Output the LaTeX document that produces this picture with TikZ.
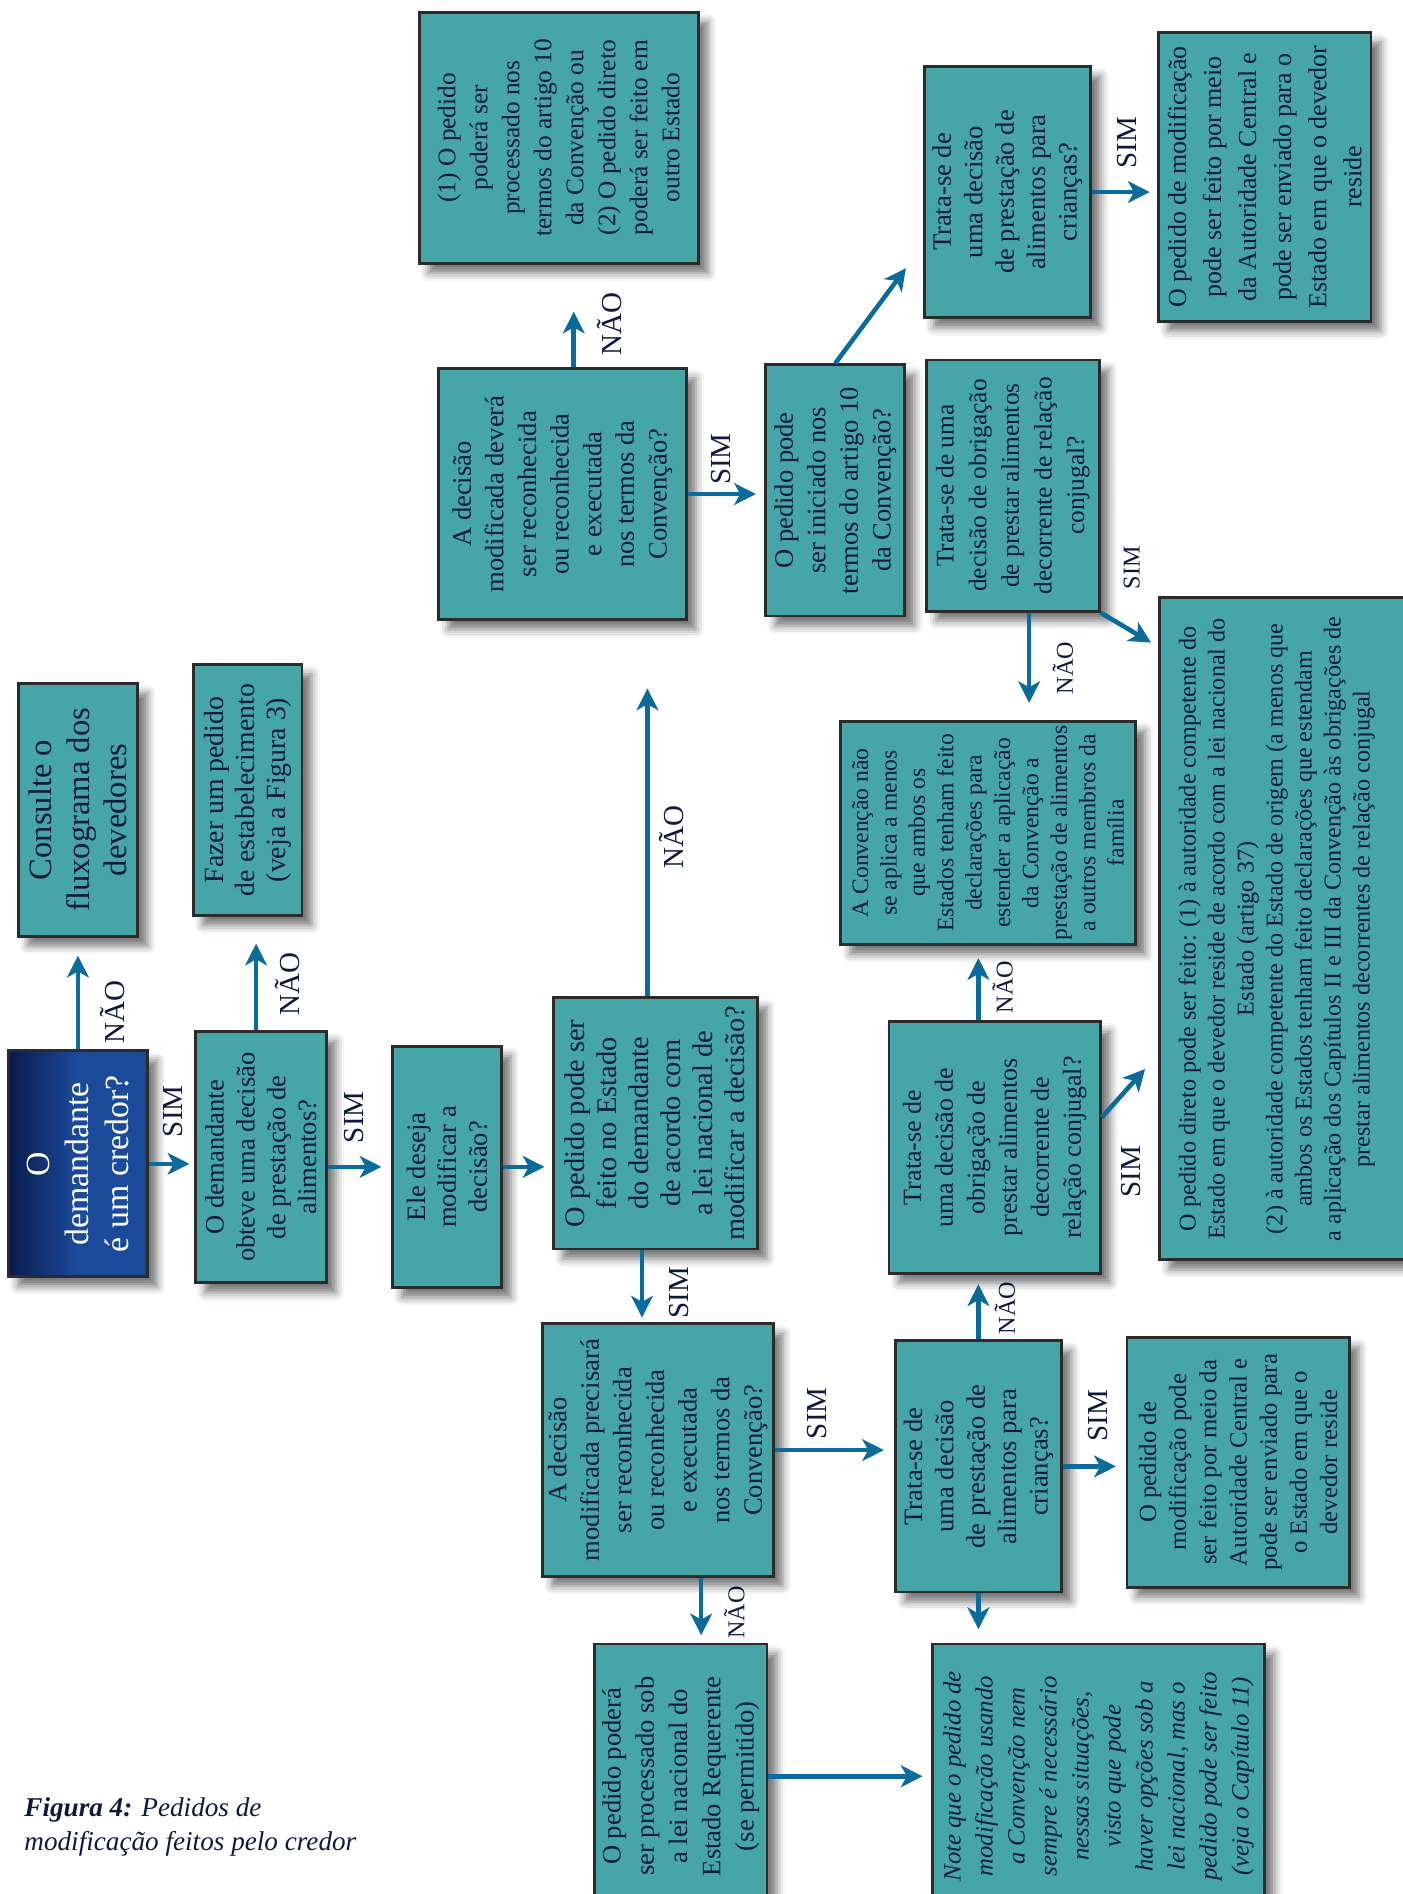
\documentclass[tikz,border=0pt]{standalone}
\usepackage{fontspec}
\setmainfont{Liberation Serif}
\usetikzlibrary{arrows.meta,shadows.blur,fit,calc}
\definecolor{tealbox}{HTML}{45A5A7}
\definecolor{bordc}{HTML}{2B2B2B}
\definecolor{ink}{HTML}{0E1A3D}
\definecolor{arrc}{HTML}{0B6C9C}
\definecolor{navyd}{HTML}{0A1A4C}
\definecolor{blueb}{HTML}{1B4A9A}
\begin{document}
\begin{tikzpicture}[x=1pt,y=-1pt,
  box/.style={draw=bordc, line width=2.4pt, fill=tealbox, inner sep=0pt,
    blur shadow={shadow xshift=8pt, shadow yshift=-8pt, shadow blur radius=7pt, shadow opacity=55}},
  txt/.style={rotate=90, align=center, text=ink, inner sep=0pt, font=\fontsize{22}{26}\selectfont},
  lbl/.style={rotate=90, text=ink, inner sep=0pt, font=\fontsize{24}{24}\selectfont},
  lbls/.style={rotate=90, text=ink, inner sep=0pt, font=\fontsize{20}{20}\selectfont},
  arr/.style={draw=arrc, line width=3.8pt, -{Stealth[length=18pt,width=18pt,inset=5pt]}}]
\useasboundingbox (0,0) rectangle (1161,1568);

% boxes
\node[box, fit={(7,870) (122,1057)}, left color=navyd, right color=blueb, middle color=blueb] (b1) {};
\node[box, fit={(15,566) (114,775)}] (b2) {};
\node[box, fit={(162,854) (270,1062)}] (b3) {};
\node[box, fit={(160,550) (250,758)}] (b4) {};
\node[box, fit={(325,866) (415,1066)}] (b5) {};
\node[box, fit={(458,826) (627,1034)}] (b6) {};
\node[box, fit={(449,1096) (640,1305)}] (b7) {};
\node[box, fit={(492,1361) (635,1580)}] (b8) {};
\node[box, fit={(741,1110) (879,1318)}] (b9) {};
\node[box, fit={(933,1107) (1117,1314)}] (b10) {};
\node[box, fit={(772,1361) (1047,1580)}] (b11) {};
\node[box, fit={(363,305) (568,513)}] (b12) {};
\node[box, fit={(347,10) (578,218)}] (b13) {};
\node[box, fit={(634,302) (749,510)}] (b14) {};
\node[box, fit={(765,55) (903,263)}] (b15) {};
\node[box, fit={(959,27) (1135,266)}] (b16) {};
\node[box, fit={(767,298) (910,506)}] (b17) {};
\node[box, fit={(696,597) (940,782)}] (b18) {};
\node[box, fit={(960,495) (1180,1043)}] (b19) {};
\node[box, fit={(736,846) (911,1054)}] (b20) {};

% texts
\node[txt, text=white, font=\fontsize{28}{33}\selectfont] (t1) at (b1.center) {O\\demandante\\é um credor?};
\node[txt, font=\fontsize{27}{31}\selectfont] (t2) at (b2.center) {Consulte o\\fluxograma dos\\devedores};
\node[txt, font=\fontsize{22}{25.5}\selectfont] (t3) at (b3.center) {O demandante\\obteve uma decisão\\de prestação de\\alimentos?};
\node[txt, font=\fontsize{23}{25.5}\selectfont] (t4) at (b4.center) {Fazer um pedido\\de estabelecimento\\(veja a Figura 3)};
\node[txt, font=\fontsize{22}{25.5}\selectfont] (t5) at (b5.center) {Ele deseja\\modificar a\\decisão?};
\node[txt, font=\fontsize{23.5}{26.5}\selectfont] (t6) at (b6.center) {O pedido pode ser\\feito no Estado\\do demandante\\de acordo com\\a lei nacional de\\modificar a decisão?};
\node[txt, font=\fontsize{22}{27}\selectfont] (t7) at (b7.center) {A decisão\\modificada precisará\\ser reconhecida\\ou reconhecida\\e executada\\nos termos da\\Convenção?};
\node[txt, font=\fontsize{22}{27.5}\selectfont] (t8) at (b8.center) {O pedido poderá\\ser processado sob\\a lei nacional do\\Estado Requerente\\(se permitido)};
\node[txt, font=\fontsize{22}{26}\selectfont] (t9) at (b9.center) {Trata-se de\\uma decisão\\de prestação de\\alimentos para\\crianças?};
\node[txt, font=\fontsize{20.5}{25}\selectfont] (t10) at (b10.center) {O pedido de\\modificação pode\\ser feito por meio da\\Autoridade Central e\\pode ser enviado para\\o Estado em que o\\devedor reside};
\node[txt, font=\fontsize{20.5}{26.5}\selectfont\itshape] (t11) at (b11.center) {Note que o pedido de\\modificação usando\\a Convenção nem\\sempre é necessário\\nessas situações,\\visto que pode\\haver opções sob a\\lei nacional, mas o\\pedido pode ser feito\\(veja o Capítulo 11)};
\node[txt, font=\fontsize{22}{27}\selectfont] (t12) at (b12.center) {A decisão\\modificada deverá\\ser reconhecida\\ou reconhecida\\e executada\\nos termos da\\Convenção?};
\node[txt, font=\fontsize{21}{26.5}\selectfont] (t13) at (b13.center) {(1) O pedido\\poderá ser\\processado nos\\termos do artigo 10\\da Convenção ou\\(2) O pedido direto\\poderá ser feito em\\outro Estado};
\node[txt, font=\fontsize{22}{27}\selectfont] (t14) at (b14.center) {O pedido pode\\ser iniciado nos\\termos do artigo 10\\da Convenção?};
\node[txt, font=\fontsize{22}{26}\selectfont] (t15) at (b15.center) {Trata-se de\\uma decisão\\de prestação de\\alimentos para\\crianças?};
\node[txt, font=\fontsize{21.5}{29}\selectfont] (t16) at (b16.center) {O pedido de modificação\\pode ser feito por meio\\da Autoridade Central e\\pode ser enviado para o\\Estado em que o devedor\\reside};
\node[txt, font=\fontsize{21}{27}\selectfont] (t17) at (b17.center) {Trata-se de uma\\decisão de obrigação\\de prestar alimentos\\decorrente de relação\\conjugal?};
\node[txt, font=\fontsize{19.5}{23.5}\selectfont] (t18) at (b18.center) {A Convenção não\\se aplica a menos\\que ambos os\\Estados tenham feito\\declarações para\\estender a aplicação\\da Convenção a\\prestação de alimentos\\a outros membros da\\família};
\node[txt, font=\fontsize{20}{24}\selectfont] (t19) at (1057,769) {O pedido direto pode ser feito: (1) à autoridade competente do\\Estado em que o devedor reside de acordo com a lei nacional do\\Estado (artigo 37)\\(2) à autoridade competente do Estado de origem (a menos que\\ambos os Estados tenham feito declarações que estendam\\a aplicação dos Capítulos II e III da Convenção às obrigações de\\prestar alimentos decorrentes de relação conjugal};
\node[txt, font=\fontsize{21.5}{26.5}\selectfont] (t20) at (b20.center) {Trata-se de\\uma decisão de\\obrigação de\\prestar alimentos\\decorrente de\\relação conjugal?};

% free ends and starts
\coordinate (e6) at (536,570);
\coordinate (e13) at (475,258);
\coordinate (e15) at (750,222);
\coordinate (e18) at (852,582);
\coordinate (e19a) at (953,532);
\coordinate (e19b) at (948,885);
\coordinate (s3) at ($(b3.north)+(-4,0)$);
\coordinate (s7) at ($(b6.south)+(-11,0)$);
\coordinate (s9) at ($(b7.south)+(36,0)$);
\coordinate (s15) at ($(b20.east)+(0,-25)$);

% connectors
\draw[arr, shorten >=15pt] (b1.north) -- (b2.south);
\draw[arr, shorten >=4pt] (b1.east) -- (b1.east -| b3.west);
\draw[arr, shorten >=22pt] (s3) -- (s3 |- b4.south);
\draw[arr, shorten >=8pt] (b5.west -| b3.east) -- (b5.west);
\draw[arr, shorten >=6pt] (b5.east) -- (b5.east -| b6.west);
\draw[arr] (e6 |- b6.north) -- (e6);
\draw[arr, shorten >=4pt] (s7) -- (s7 |- b7.north);
\draw[arr, shorten >=8pt] (b7.east) -- (b7.east -| b9.west);
\draw[arr, shorten >=6pt] (s9) -- (s9 |- b8.north);
\draw[arr, shorten >=7pt] (b8.east) -- (b8.east -| b11.west);
\draw[arr, shorten >=8pt] (b9.east) -- (b9.east -| b10.west);
\draw[arr, shorten >=11pt] (b9.south) -- (b9.south |- b11.north);
\draw[arr, shorten >=8pt] (b9.north) -- (b9.north |- b20.south);
\draw[arr, shorten >=10pt] (b9.north |- b20.north) -- (b9.north |- b18.south);
\draw[arr] (s15) -- (e19b);
\draw[arr] (e13 |- b12.north) -- (e13);
\draw[arr, shorten >=7pt] (b12.east) -- (b12.east -| b14.west);
\draw[arr] (b14.north) -- (e15);
\draw[arr, shorten >=6pt] (b15.east) -- (b15.east -| b16.west);
\draw[arr] (e18 |- b17.south) -- (e18);
\draw[arr] (b17.south east) -- (e19a);

% labels
\node[lbl] (l1) at (93,838) {NÃO};
\node[lbl] (l2) at (143,920) {SIM};
\node[lbl] (l3) at (238,815) {NÃO};
\node[lbl] (l4) at (293,925) {SIM};
\node[lbl] (l5) at (556,693) {NÃO};
\node[lbl] (l6) at (562,1070) {SIM};
\node[lbl] (l7) at (676,1170) {SIM};
\node[lbls] (l8) at (608,1335) {NÃO};
\node[lbl] (l9) at (909,1172) {SIM};
\node[lbls] (l10) at (832,1083) {NÃO};
\node[lbls] (l11) at (830,817) {NÃO};
\node[lbl] (l12) at (936,970) {SIM};
\node[lbl] (l13) at (505,268) {NÃO};
\node[lbl] (l14) at (597,380) {SIM};
\node[lbl] (l15) at (933,118) {SIM};
\node[lbls] (l16) at (880,553) {NÃO};
\node[lbls] (l17) at (937,470) {SIM};

% caption
\node[anchor=north west, align=left, text=ink, inner sep=0pt, font=\fontsize{22.5}{28}\selectfont\itshape] (cap) at (20,1488) {\textbf{Figura 4:} Pedidos de\\modificação feitos pelo credor};
\end{tikzpicture}
\end{document}
